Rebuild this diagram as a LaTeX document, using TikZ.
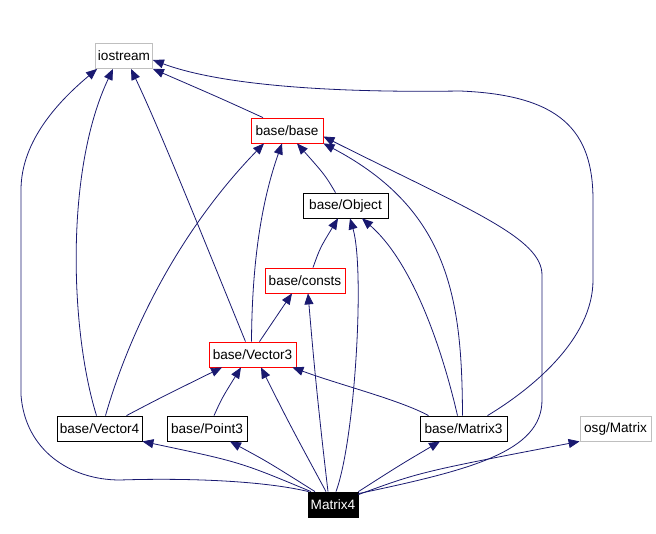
\documentclass[tikz,border=0pt]{standalone}
\usepackage{fontspec}
\setmainfont{Liberation Sans}
\usetikzlibrary{arrows.meta}
\definecolor{edgeblue}{HTML}{191970}
\definecolor{boxgray}{HTML}{BFBFBF}
\begin{document}
\begin{tikzpicture}[x=1pt,y=-1pt,
  nbox/.style={draw, rectangle, minimum height=25pt, inner sep=0pt, line width=0.8pt,
               font=\fontsize{13.6}{16}\selectfont},
  blackbox/.style={nbox, draw=black},
  redbox/.style={nbox, draw=red},
  graybox/.style={nbox, draw=boxgray},
  rootbox/.style={nbox, draw=black, fill=black, text=white},
  dep/.style={draw=edgeblue, line width=0.8pt, -{Triangle[length=11pt,width=9pt]}}]
\useasboundingbox (0,0) rectangle (656,534);

\node[graybox, minimum width=57pt] (io) at (124,56) {iostream};
\node[redbox, minimum width=72pt] (bb) at (287,130.5) {base/base};
\node[blackbox, minimum width=85pt] (ob) at (345.5,205.5) {base/Object};
\node[redbox, minimum width=80pt] (co) at (305,280.5) {base/consts};
\node[redbox, minimum width=87pt] (v3) at (252.5,354.5) {base/Vector3};
\node[blackbox, minimum width=85pt] (v4) at (99.5,428.5) {base/Vector4};
\node[blackbox, minimum width=80pt] (p3) at (207,428.5) {base/Point3};
\node[blackbox, minimum width=87pt] (m3) at (463.5,428.5) {base/Matrix3};
\node[graybox, minimum width=71pt] (om) at (615.5,428.5) {osg/Matrix};
\node[rootbox, minimum width=50pt] (m4) at (333,504.5) {Matrix4};

% Matrix4 dependencies
\draw[dep] ([xshift=-22pt]m4.north) .. controls (240,462) .. (v4.south east);
\draw[dep] ([xshift=-18pt]m4.north) .. controls (268,462) .. ([xshift=23pt]p3.south);
\draw[dep] ([xshift=-7pt]m4.north) .. controls (290,425) .. ([xshift=8.5pt]v3.south);
\draw[dep] ([xshift=-5pt]m4.north) .. controls (316,390) and (312,340) .. ([xshift=3pt]co.south);
\draw[dep] ([xshift=3pt]m4.north) .. controls (355,440) and (365,270) .. ([xshift=4.5pt]ob.south);
\draw[dep] (m4.north east) .. controls (400,465) .. ([xshift=-23.5pt]m3.south);
\draw[dep] ([yshift=-3pt]m4.north east) .. controls (420,472) .. (om.south west);
\draw[dep] ([yshift=-2pt]m4.north east) .. controls (470,470) and (542,452) .. (542,400)
  -- (542,275) .. controls (542,238) and (470,210) .. ([yshift=-6pt]bb.east);
\draw[dep] ([xshift=1pt]m4.north west) .. controls (260,480) and (180,478) .. (120,480)
  .. controls (70,480) and (25,450) .. (21,395)
  -- (21,190) .. controls (21,140) and (60,100) .. ([xshift=2pt]io.south west);

% Vector4
\draw[dep] ([xshift=-3pt]v4.north) .. controls (70,330) and (65,170) .. ([xshift=-11pt]io.south);
\draw[dep] ([xshift=6pt]v4.north) .. controls (130,330) and (180,230) .. ([xshift=-23pt]bb.south);
\draw[dep] ([xshift=27pt]v4.north) .. controls (160,398) .. ([xshift=-30.5pt]v3.south);

% Point3
\draw[dep] ([xshift=7pt]p3.north) .. controls (222,398) .. ([xshift=-11.5pt]v3.south);

% Vector3
\draw[dep] ([xshift=-7pt]v3.north) .. controls (200,230) and (160,130) .. ([xshift=7pt]io.south);
\draw[dep] ([xshift=-1pt]v3.north) .. controls (252,260) and (262,200) .. ([xshift=-5pt]bb.south);
\draw[dep] ([xshift=7pt]v3.north) -- ([xshift=-13pt]co.south);

% consts, Object
\draw[dep] ([xshift=8pt]co.north) .. controls (320,248) .. ([xshift=-7.5pt]ob.south);
\draw[dep] ([xshift=-10pt]ob.north) .. controls (325,175) .. ([xshift=10pt]bb.south);

% Matrix3
\draw[dep] ([xshift=-6pt]m3.north) .. controls (440,340) and (410,260) .. ([xshift=16.5pt]ob.south);
\draw[dep] ([xshift=-1pt]m3.north) .. controls (462,300) and (450,210) .. (bb.south east);
\draw[dep] ([xshift=-35pt]m3.north) .. controls (400,400) and (340,385) .. ([xshift=-4pt]v3.south east);
\draw[dep] ([xshift=24pt]m3.north) .. controls (530,390) and (593,340) .. (593,280)
  -- (593,200) .. controls (593,130) and (560,95) .. (460,91)
  .. controls (330,93) and (220,85) .. ([yshift=-4pt]io.east);

% base/base
\draw[dep] ([xshift=-24pt]bb.north) .. controls (220,98) .. (io.south east);
\end{tikzpicture}
\end{document}
